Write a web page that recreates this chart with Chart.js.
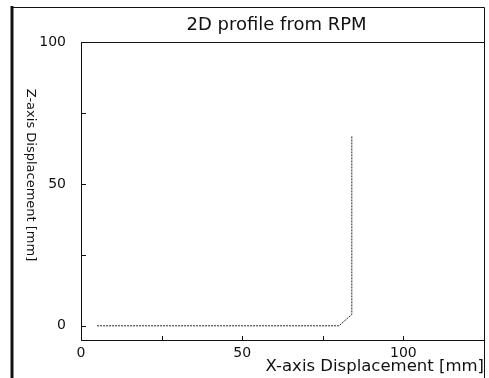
<!DOCTYPE html>
<html>
<head>
<meta charset="utf-8">
<script src="https://cdn.jsdelivr.net/npm/chart.js@4.4.0/dist/chart.umd.min.js"></script>
<style>
html, body { margin: 0; padding: 0; background: #fff; }
canvas { display: block; }
</style>
</head>
<body>
<canvas id="myChart" width="489" height="378"></canvas>
<script>
// profile points
let xValues = [5, 80, 84, 84];
let zValues = [0, 0, 4, 67];

let xTicks = [0, 25, 50, 75, 100, 125];
let xTickLabels = ['0', '', '50', '', '100', ''];
let yTicks = [0, 25, 50, 75, 100];
let yTickLabels = ['0', '', '50', '', '100'];

let chartTitle = '2D profile from RPM';
let xTitle = 'X-axis Displacement [mm]';
let yTitle = 'Z-axis Displacement [mm]';

// frame, inward tick marks, title boxes
const framePlugin = {
  id: 'frame',
  afterDraw(chart) {
    const ctx = chart.ctx;
    const a = chart.chartArea;
    const xs = chart.scales.x;
    const ys = chart.scales.y;
    ctx.save();
    ctx.strokeStyle = '#111';

    ctx.lineWidth = 3;
    ctx.beginPath();
    ctx.moveTo(12, 6);
    ctx.lineTo(12, 378);
    ctx.stroke();

    ctx.lineWidth = 1;
    ctx.beginPath();
    ctx.moveTo(12, 7.5);
    ctx.lineTo(a.right + 0.5, 7.5);
    ctx.lineTo(a.right + 0.5, 378);
    ctx.moveTo(a.left, a.top + 0.5);
    ctx.lineTo(a.right, a.top + 0.5);
    xs.ticks.forEach(t => {
      const px = Math.round(xs.getPixelForValue(t.value)) + 0.5;
      ctx.moveTo(px, a.bottom);
      ctx.lineTo(px, a.bottom - 4);
    });
    ys.ticks.forEach(t => {
      const py = Math.round(ys.getPixelForValue(t.value)) + 0.5;
      ctx.moveTo(a.left, py);
      ctx.lineTo(a.left + 5, py);
    });
    ctx.stroke();

    ctx.fillStyle = '#111';
    ctx.textAlign = 'center';
    ctx.textBaseline = 'middle';
    ctx.font = '18px "DejaVu Sans"';
    ctx.fillText(chartTitle, (a.left + a.right) / 2 - 6, 25);

    ctx.font = '13px "DejaVu Sans"';
    ctx.translate(30, 175);
    ctx.rotate(Math.PI / 2);
    ctx.fillText(yTitle, 0, 0);
    ctx.restore();
  }
};

function draw_chart() {
  new Chart('myChart', {
    type: 'scatter',
    data: {
      datasets: [{
        data: xValues.map((x, i) => ({ x: x, y: zValues[i] })),
        showLine: true,
        borderColor: '#222',
        borderWidth: 1,
        borderDash: [2, 1],
        pointRadius: 0,
        fill: false
      }]
    },
    options: {
      responsive: false,
      animation: false,
      devicePixelRatio: 1,
      layout: { padding: { top: 42, right: 5, left: 0, bottom: 0 } },
      plugins: {
        legend: { display: false },
        tooltip: { enabled: false }
      },
      scales: {
        x: {
          type: 'linear',
          min: 0,
          max: 125,
          afterBuildTicks: s => { s.ticks = xTicks.map(v => ({ value: v })); },
          afterFit: s => { s.height = 38; },
          grid: { display: false, drawTicks: false },
          border: { color: '#111', width: 1 },
          ticks: {
            autoSkip: false,
            maxRotation: 0,
            padding: 5,
            color: '#111',
            font: { family: 'DejaVu Sans', size: 14 },
            callback: v => xTickLabels[xTicks.indexOf(v)] || ''
          },
          title: {
            display: true,
            text: xTitle,
            align: 'end',
            color: '#111',
            font: { family: 'DejaVu Sans', size: 16.5 },
            padding: { top: 0, bottom: 1 }
          }
        },
        y: {
          type: 'linear',
          min: -5,
          max: 100,
          afterBuildTicks: s => { s.ticks = yTicks.map(v => ({ value: v })); },
          afterFit: s => { s.width = 81; },
          grid: { display: false, drawTicks: false },
          border: { color: '#111', width: 1 },
          ticks: {
            autoSkip: false,
            padding: 15,
            color: '#111',
            font: { family: 'DejaVu Sans', size: 14 },
            callback: v => yTickLabels[yTicks.indexOf(v)] || ''
          }
        }
      }
    },
    plugins: [framePlugin]
  });
}

draw_chart();
</script>
</body>
</html>
